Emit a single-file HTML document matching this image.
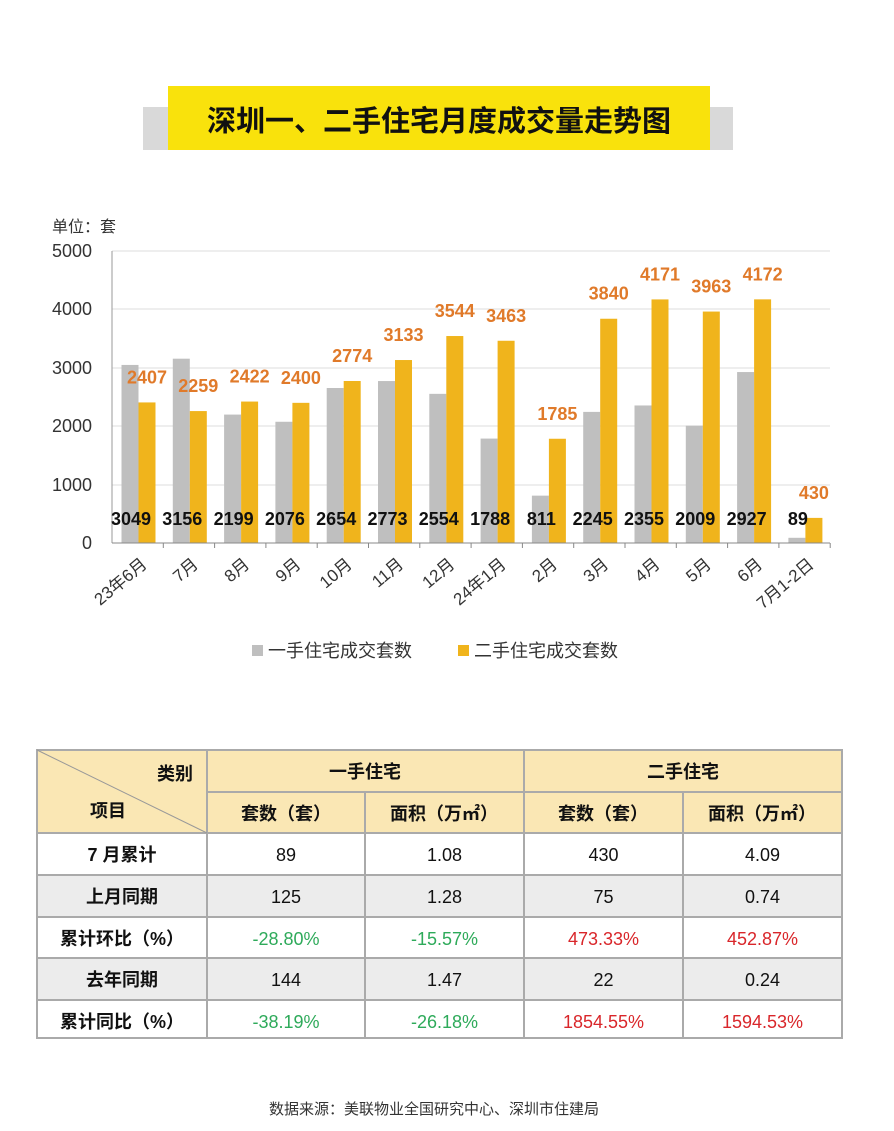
<!DOCTYPE html>
<html><head><meta charset="utf-8"><style>
body{margin:0;background:#fff;font-family:"Liberation Sans","Noto Sans CJK SC",sans-serif}
</style></head><body>
<svg width="894" height="1126" xmlns="http://www.w3.org/2000/svg" font-family="Liberation Sans, Noto Sans CJK SC, sans-serif">
<rect width="894" height="1126" fill="#fff"/>
<rect x="143" y="107" width="590" height="43" fill="#d9d9d9"/>
<rect x="168" y="86" width="542" height="64" fill="#f9e20c"/>
<text x="439" y="131" font-size="29" font-weight="bold" text-anchor="middle" fill="#111">深圳一、二手住宅月度成交量走势图</text>
<text x="52" y="232" font-size="16" fill="#333">单位：套</text>
<g font-size="18" fill="#333" text-anchor="end">
<text x="92" y="257">5000</text><text x="92" y="315">4000</text><text x="92" y="374">3000</text><text x="92" y="432">2000</text><text x="92" y="491">1000</text><text x="92" y="549">0</text>
</g>
<g stroke="#ddd" stroke-width="1">
<line x1="112" y1="251" x2="830" y2="251"/><line x1="112" y1="309" x2="830" y2="309"/><line x1="112" y1="368" x2="830" y2="368"/><line x1="112" y1="426" x2="830" y2="426"/><line x1="112" y1="485" x2="830" y2="485"/>
</g>
<line x1="112" y1="251" x2="112" y2="543" stroke="#999"/>
<g id="bars"></g>
<line x1="112" y1="543" x2="830" y2="543" stroke="#888"/>
<g id="labels"></g>
<rect x="252" y="645" width="11" height="11" fill="#bfbfbf"/>
<text x="268" y="657" font-size="18" fill="#333">一手住宅成交套数</text>
<rect x="458" y="645" width="11" height="11" fill="#f0b41c"/>
<text x="474" y="657" font-size="18" fill="#333">二手住宅成交套数</text>
<g id="tbl"></g>
<text x="434" y="1114" font-size="15" text-anchor="middle" fill="#333">数据来源：美联物业全国研究中心、深圳市住建局</text>
</svg>
<script>
var ns="http://www.w3.org/2000/svg";
function el(p,t,a,txt){var e=document.createElementNS(ns,t);for(var k in a)e.setAttribute(k,a[k]);if(txt!=null)e.textContent=txt;document.getElementById(p).appendChild(e);return e;}
var g=[3049,3156,2199,2076,2654,2773,2554,1788,811,2245,2355,2009,2927,89];
var y=[2407,2259,2422,2400,2774,3133,3544,3463,1785,3840,4171,3963,4172,430];
var c=["23年6月","7月","8月","9月","10月","11月","12月","24年1月","2月","3月","4月","5月","6月","7月1-2日"];
var w=51.3,s=0.0584;
for(var i=0;i<14;i++){var x0=112+i*w;
el("bars","rect",{x:x0+9.5,y:543-g[i]*s,width:17,height:g[i]*s,fill:"#bfbfbf"});
el("bars","rect",{x:x0+26.5,y:543-y[i]*s,width:17,height:y[i]*s,fill:"#f0b41c"});
el("bars","line",{x1:x0+w,y1:543,x2:x0+w,y2:548,stroke:"#888"});
el("labels","text",{x:x0+35,y:543-y[i]*s-19,"font-size":18,"font-weight":"bold",fill:"#e07a2a","text-anchor":"middle"},y[i]);
el("labels","text",{x:x0+19,y:525,"font-size":18,"font-weight":"bold",fill:"#111","text-anchor":"middle"},g[i]);
el("labels","text",{x:x0+36,y:566,"font-size":17,fill:"#333","text-anchor":"end",transform:"rotate(-40 "+(x0+36)+" 566)"},c[i]);
}
var cols=[37,207,365,524,683,842],rows=[750,792,833,875,917,958,1000,1038];
el("tbl","rect",{x:37,y:750,width:805,height:83,fill:"#fae7b4"});
for(var r=3;r<7;r+=2)el("tbl","rect",{x:37,y:rows[r],width:805,height:rows[r+1]-rows[r],fill:"#ececec"});
var L="#aaa";
el("tbl","rect",{x:37,y:750,width:805,height:288,fill:"none",stroke:L,"stroke-width":2});
for(var r=2;r<7;r++)el("tbl","line",{x1:37,y1:rows[r],x2:842,y2:rows[r],stroke:L,"stroke-width":2});
el("tbl","line",{x1:207,y1:792,x2:842,y2:792,stroke:L,"stroke-width":2});
el("tbl","line",{x1:207,y1:750,x2:207,y2:1038,stroke:L,"stroke-width":2});
el("tbl","line",{x1:524,y1:750,x2:524,y2:1038,stroke:L,"stroke-width":2});
el("tbl","line",{x1:365,y1:792,x2:365,y2:1038,stroke:L,"stroke-width":2});
el("tbl","line",{x1:683,y1:792,x2:683,y2:1038,stroke:L,"stroke-width":2});
el("tbl","line",{x1:37,y1:750,x2:207,y2:833,stroke:"#999","stroke-width":1});
function T(x,y,t,col,b){el("tbl","text",{x:x,y:y,"font-size":18,"text-anchor":"middle",fill:col||"#111","font-weight":b?"bold":"normal"},t);}
T(175,780,"类别",0,1);T(108,817,"项目",0,1);
T(365,778,"一手住宅",0,1);T(683,778,"二手住宅",0,1);
T(286,820,"套数（套）",0,1);T(444,820,"面积（万㎡）",0,1);T(603,820,"套数（套）",0,1);T(762,820,"面积（万㎡）",0,1);
var d=[["7 月累计","89","1.08","430","4.09"],["上月同期","125","1.28","75","0.74"],["累计环比（%）","-28.80%","-15.57%","473.33%","452.87%"],["去年同期","144","1.47","22","0.24"],["累计同比（%）","-38.19%","-26.18%","1854.55%","1594.53%"]];
for(var r=0;r<5;r++){var yy=rows[r+2]+28;T(122,yy,d[r][0],0,1);
for(var k=1;k<5;k++){var col=(r==2||r==4)?(k<3?"#2eaa5a":"#d9262a"):"#111";T((cols[k]+cols[k+1])/2,yy,d[r][k],col);}}
</script>
</body></html>
